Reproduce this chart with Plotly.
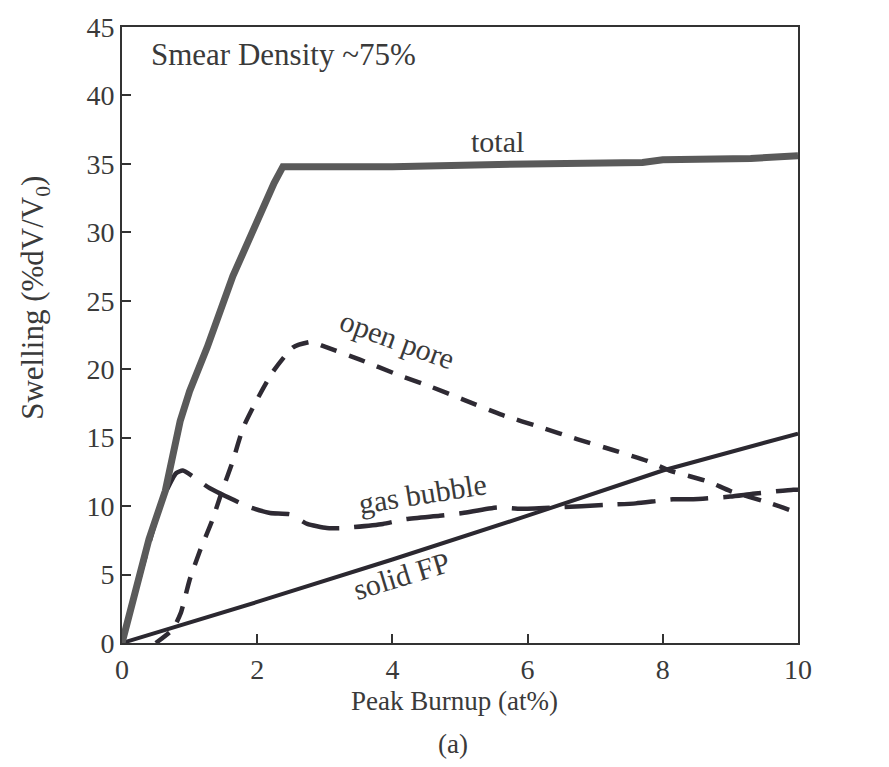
import plotly.graph_objects as go

# Peak burnup (at%) vs. swelling components (%dV/V0), smear density ~75%
total_x = [0, 0.12, 0.24, 0.4, 0.64, 0.75, 0.86, 1.0, 1.26, 1.64, 2.04, 2.25, 2.38, 4.0, 6.0, 7.7, 8.0, 9.3, 10.0]
total_y = [0, 2.4, 4.6, 7.6, 11.1, 13.8, 16.2, 18.4, 21.6, 26.8, 31.4, 33.6, 34.8, 34.8, 35.0, 35.1, 35.3, 35.4, 35.6]

open_pore_x = [0.5, 0.75, 0.87, 1.0, 1.15, 1.33, 1.48, 1.64, 1.79, 2.0, 2.23, 2.53, 2.8, 2.97, 3.52,
               4.08, 4.58, 5.04, 5.6, 6.23, 6.73, 7.26, 7.77, 8.1, 8.67, 9.0, 9.6, 10.0]
open_pore_y = [0, 1.0, 2.2, 4.6, 6.7, 8.9, 11.1, 13.3, 15.7, 17.8, 19.8, 21.6, 22.0, 21.7, 20.7,
               19.6, 18.7, 17.8, 16.7, 15.7, 14.9, 14.1, 13.3, 12.6, 11.8, 11.1, 10.2, 9.5]

gas_bubble_x = [0, 0.3, 0.6, 0.8, 0.9, 1.3, 1.9, 2.19, 2.49, 2.74, 3.03, 3.27, 3.86, 4.2, 4.7, 5.04,
                5.55, 5.9, 6.4, 7.2, 7.6, 8.15, 8.45, 9.0, 9.33, 9.93, 10.0]
gas_bubble_y = [0, 5.5, 10.5, 12.4, 12.6, 11.3, 9.9, 9.5, 9.4, 8.7, 8.4, 8.4, 8.7, 9.05, 9.3, 9.5,
                9.9, 9.8, 9.9, 10.1, 10.2, 10.5, 10.5, 10.7, 10.9, 11.2, 11.2]

solid_fp_x = [0, 2, 4, 6, 8, 10]
solid_fp_y = [0, 3.0, 6.1, 9.3, 12.6, 15.3]

x_ticks = [0, 2, 4, 6, 8, 10]
y_ticks = [0, 5, 10, 15, 20, 25, 30, 35, 40, 45]

FONT = "Liberation Serif, Times New Roman, serif"
INK = "#3a3a3a"

fig = go.Figure()
fig.add_trace(go.Scatter(x=solid_fp_x, y=solid_fp_y, mode="lines",
                         line=dict(color="#2b2830", width=4)))
fig.add_trace(go.Scatter(x=gas_bubble_x, y=gas_bubble_y, mode="lines",
                         line=dict(color="#2e2a33", width=4.5, dash="38px,15px",
                                   shape="spline", smoothing=0.5)))
fig.add_trace(go.Scatter(x=open_pore_x, y=open_pore_y, mode="lines",
                         line=dict(color="#2e2a33", width=4.5, dash="17px,13px",
                                   shape="spline", smoothing=0.5)))
fig.add_trace(go.Scatter(x=total_x, y=total_y, mode="lines",
                         line=dict(color="#5a5a5a", width=7)))

# Curve labels
labels = [
    ("total", 5.55, 36.6, 0),
    ("open pore", 4.07, 22.2, 20),
    ("gas bubble", 4.45, 10.9, -9),
    ("solid FP", 4.14, 4.9, -17),
]
for txt, lx, ly, ang in labels:
    fig.add_annotation(x=lx, y=ly, text=txt, showarrow=False, textangle=ang,
                       xanchor="center", yanchor="middle",
                       font=dict(family=FONT, size=30, color=INK))

fig.add_annotation(x=0.4, y=43.0, text="Smear Density ~75%", showarrow=False,
                   xanchor="left", yanchor="middle",
                   font=dict(family=FONT, size=31, color=INK))

# Axis titles and panel tag, placed in paper space from plot-area pixel edges
L, R, T, B = 122, 798, 22, 643
def px(xp):
    return (xp - L) / (R - L)
def py(yp):
    return (B - yp) / (B - T)

fig.add_annotation(xref="paper", yref="paper", x=px(454), y=py(701), text="Peak Burnup (at%)",
                   showarrow=False, xanchor="center", yanchor="middle",
                   font=dict(family=FONT, size=27, color=INK))
fig.add_annotation(xref="paper", yref="paper", x=px(35), y=py(295),
                   text="Swelling (%dV/V<sub>0</sub>)", textangle=-90,
                   showarrow=False, xanchor="center", yanchor="middle",
                   font=dict(family=FONT, size=31, color=INK))
fig.add_annotation(xref="paper", yref="paper", x=px(453), y=py(745), text="(a)",
                   showarrow=False, xanchor="center", yanchor="middle",
                   font=dict(family=FONT, size=27, color=INK))

axis_common = dict(showgrid=False, zeroline=False, showline=True, mirror=True,
                   linecolor="#333333", linewidth=2, ticks="inside", ticklen=9,
                   tickwidth=2, tickcolor="#333333",
                   tickfont=dict(family=FONT, size=28, color=INK))

fig.update_xaxes(range=[0, 10], tickvals=x_ticks, **axis_common)
fig.update_yaxes(range=[0, 45], tickvals=y_ticks, **axis_common)

fig.update_layout(width=889, height=767, showlegend=False,
                  margin=dict(l=L, r=889 - R, t=T, b=767 - B),
                  paper_bgcolor="white", plot_bgcolor="white")

fig.write_html("out.html")
